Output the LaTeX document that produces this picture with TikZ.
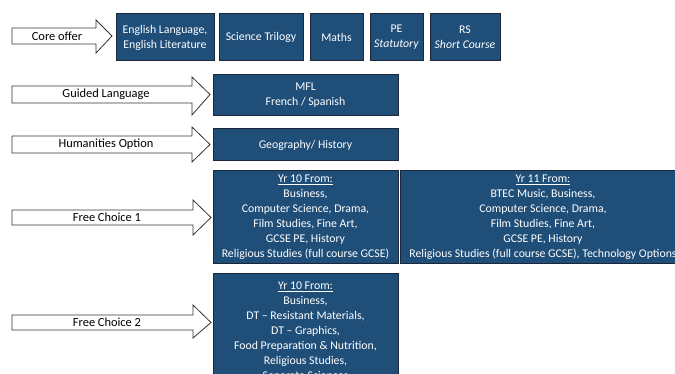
\documentclass[tikz,border=0pt]{standalone}
\usepackage{fontspec}
\setmainfont{Carlito}
\definecolor{boxblue}{RGB}{31,78,121}
\definecolor{boxline}{RGB}{28,40,58}
\tikzset{
  x=1pt, y=-1pt,
  subj/.style={draw=boxline, line width=1pt, fill=boxblue, text=white, align=center,
    inner sep=1pt, font=\fontsize{11.8}{15}\selectfont},
  arrowshape/.style={draw=black!80, fill=white, line width=0.8pt, line join=miter},
  arrowlabel/.style={font=\fontsize{12.4}{14}\selectfont, text=black, inner sep=0pt}
}
\newcommand{\bigarrow}[8]{% name, x0, xb, xt, bt, bb, ht, hb
  \draw[arrowshape] (#2,#5) -- (#3,#5) -- (#3,#7) -- (#4,{(#5+#6)/2}) -- (#3,#8) -- (#3,#6) -- (#2,#6) -- cycle;
  \coordinate (#1) at (#4,{(#5+#6)/2});
}
\begin{document}
\begin{tikzpicture}
\useasboundingbox (0,0) rectangle (675,374);
% arrows
\bigarrow{t1}{12}{96}{112}{28}{44}{20}{53}
\node[arrowlabel] (l1) at (57,36) {Core offer};
\bigarrow{t2}{12}{192}{210}{86}{103}{77}{115}
\node[arrowlabel] (l2) at (106,94.5) {Guided Language};
\bigarrow{t3}{12}{192}{210}{136}{153}{127}{162}
\node[arrowlabel] (l3) at (106,144.5) {Humanities Option};
\bigarrow{t4}{12}{193}{211}{210}{225}{200}{235}
\node[arrowlabel] (l4) at (107,217.5) {Free Choice 1};
\bigarrow{t5}{12}{193}{211}{315}{330}{305}{338}
\node[arrowlabel] (l5) at (107,322.5) {Free Choice 2};
% core boxes
\node[subj, minimum width=98pt, minimum height=47pt] (eng) at (165,37.5) {English Language,\\English Literature};
\node[subj, minimum width=84pt, minimum height=47pt] (sci) at (261,37.5) {Science Trilogy};
\node[subj, minimum width=53pt, minimum height=47pt] (mat) at (336.5,37.5) {Maths};
\node[subj, minimum width=53pt, minimum height=47pt] (pe) at (396.5,37.5) {PE\\\textit{Statutory}};
\node[subj, minimum width=70pt, minimum height=47pt] (rs) at (465,37.5) {RS\\\textit{Short Course}};
% guided language
\node[subj, minimum width=185pt, minimum height=41pt] (mfl) at (305.5,95.5) {MFL\\French / Spanish};
\node[subj, minimum width=185pt, minimum height=32pt] (hum) at (305.5,145) {Geography/ History};
% free choice 1
\node[subj, minimum width=185pt, minimum height=93pt] (fc1a) at (305.5,217.5)
  {\underline{Yr 10 From:}\\Business,\\Computer Science, Drama,\\Film Studies, Fine Art,\\GCSE PE, History\\Religious Studies (full course GCSE)};
\begin{scope}
\clip (0,0) rectangle (675,374);
\node[subj, minimum width=285pt, minimum height=93pt, anchor=west] (fc1b) at (400,217.5)
  {\underline{Yr 11 From:}\\BTEC Music, Business,\\Computer Science, Drama,\\Film Studies, Fine Art,\\GCSE PE, History\\Religious Studies (full course GCSE), Technology Options};
\node[subj, minimum width=185pt, minimum height=115pt, anchor=north, text depth=0pt] (fc2) at (305.5,273)
  {\underline{Yr 10 From:}\\Business,\\DT -- Resistant Materials,\\DT -- Graphics,\\Food Preparation \& Nutrition,\\Religious Studies,\\Separate Sciences};
\end{scope}
\end{tikzpicture}
\end{document}
